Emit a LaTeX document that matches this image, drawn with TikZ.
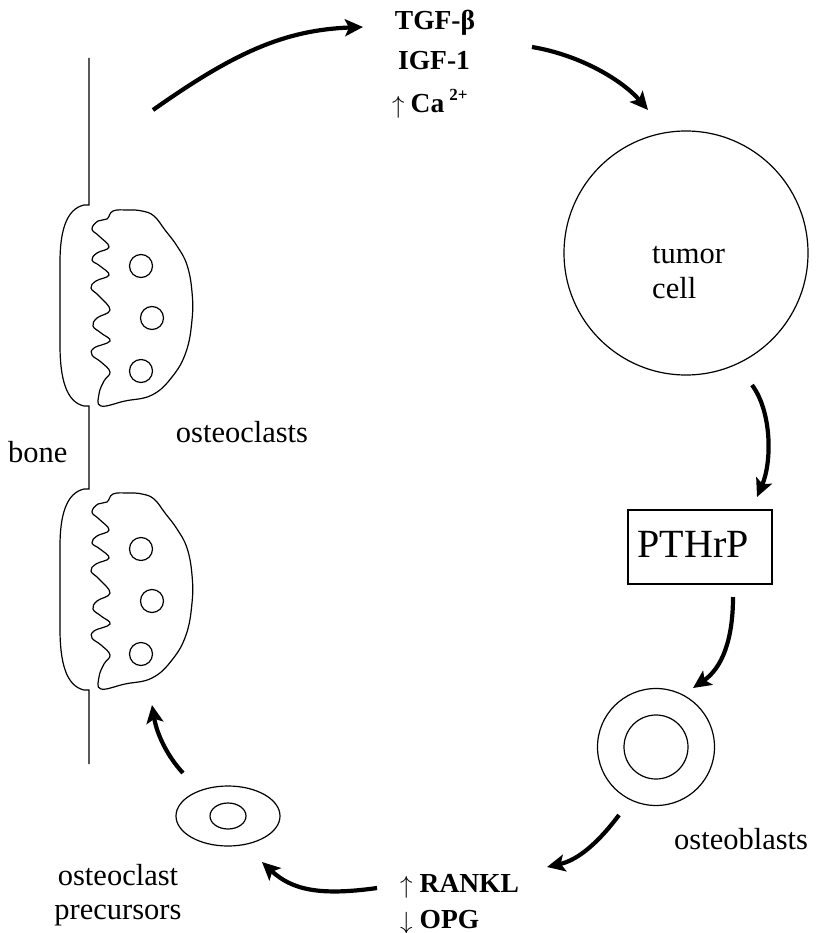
\documentclass[tikz,border=0pt]{standalone}
\usepackage{fontspec}
\setmainfont{Liberation Serif}
\usetikzlibrary{arrows.meta,shapes.geometric}
\newcommand{\upar}{\raisebox{-1pt}{\fontsize{31}{31}\selectfont$\uparrow$}}
\newcommand{\dnar}{\raisebox{-1pt}{\fontsize{31}{31}\selectfont$\downarrow$}}
\begin{document}
\begin{tikzpicture}[x=1pt,y=-1pt,
  cellline/.style={line width=1.2pt},
  flow/.style={line width=4.2pt,-{Stealth[length=18pt,width=17pt,inset=4pt]}},
  lbl/.style={inner sep=0pt,font=\fontsize{30.5}{35}\selectfont},
  blbl/.style={inner sep=0pt,font=\fontsize{27.5}{32}\selectfont\bfseries},
]
\useasboundingbox (0,0) rectangle (817,933);

% bone surface with two resorption pits
\draw[cellline] (89,58) -- (89,205) -- (84,205)
  .. controls (66,209) and (60,232) .. (60,262) -- (60,345)
  .. controls (60,378) and (66,402) .. (84,406) -- (89,406) -- (89,489) -- (84,489)
  .. controls (66,493) and (60,516) .. (60,546) -- (60,629)
  .. controls (60,662) and (66,686) .. (84,690) -- (89,690) -- (89,764);

% osteoclasts with ruffled border and nuclei
\foreach \dy/\nm in {0/ocA,283/ocB}{
  \begin{scope}[yshift=-\dy pt]
    \draw[cellline] plot[smooth cycle, tension=0.7] coordinates {
      (107,219) (113,211) (128,210) (142,211) (154,216) (165,230) (177,246)
      (187,265) (192,292) (192,320) (186,352) (172,377) (152,395) (125,401)
      (101,406) (99,394) (104,381) (110,372) (101,362) (92,355) (94,348)
      (110,341) (101,333) (93,326) (97,318) (110,310) (99,296) (91,288)
      (96,281) (109,275) (100,266) (92,260) (97,253) (109,247) (99,236)
      (92,229) (98,221)};
    \node[circle,draw,cellline,minimum size=23pt,inner sep=0pt] (\nm n1) at (141,266) {};
    \node[circle,draw,cellline,minimum size=23pt,inner sep=0pt] (\nm n2) at (152,318) {};
    \node[circle,draw,cellline,minimum size=23pt,inner sep=0pt] (\nm n3) at (141,371) {};
  \end{scope}
}

% cells
\node[circle,draw,cellline,minimum size=244pt,inner sep=0pt] (tumor) at (686,253) {};
\node[lbl,anchor=base west] (tumortxt) at (652,263) {tumor};
\node[lbl,anchor=base west] (celltxt) at (652,298) {cell};

\node[draw,cellline,minimum width=144pt,minimum height=74pt,inner sep=0pt] (pthrp) at (700,547) {};
\node[inner sep=0pt,anchor=base,font=\fontsize{40}{44}\selectfont] (pthrptxt) at (693,557) {PTHrP};

\node[circle,draw,cellline,minimum size=117pt,inner sep=0pt] (oblast) at (656,747) {};
\node[circle,draw,cellline,minimum size=64pt,inner sep=0pt] (oblastnuc) at (656,747) {};
\node[lbl,anchor=base west] (oblasttxt) at (674,849) {osteoblasts};

\node[ellipse,draw,cellline,minimum width=104pt,minimum height=60pt,inner sep=0pt] (prec) at (228,816) {};
\node[ellipse,draw,cellline,minimum width=36pt,minimum height=26pt,inner sep=0pt] (precnuc) at (228,816) {};
\node[lbl,anchor=base] (prectxt1) at (118,885) {osteoclast};
\node[lbl,anchor=base] (prectxt2) at (118,919) {precursors};

\node[lbl,anchor=base] (octxt) at (242,442) {osteoclasts};
\node[lbl,anchor=base west] (bonetxt) at (8,462) {bone};

% released factors
\node[blbl,anchor=base] (tgf) at (435,30) {TGF-β};
\node[blbl,anchor=base] (igf) at (434,70) {IGF-1};
\node[blbl,anchor=base west] (ca) at (392,113) {\upar\hspace{6pt}Ca\hspace{5pt}\raisebox{12pt}{\fontsize{17}{17}\selectfont 2+}};

\node[blbl,anchor=base west] (rankl) at (400,892) {\upar\hspace{7pt}RANKL};
\node[blbl,anchor=base west] (opg) at (400,928) {\dnar\hspace{7pt}OPG};

% connector end points
\coordinate (a1s) at (153,110); \coordinate (a1e) at (363,27);
\coordinate (a2s) at (532,47);  \coordinate (a2e) at (648,110);
\coordinate (a3s) at (752,385); \coordinate (a3e) at (757,497);
\coordinate (a4s) at (733,597); \coordinate (a4e) at (693,688);
\coordinate (a5s) at (619,815); \coordinate (a5e) at (547,867);
\coordinate (a6s) at (377,888); \coordinate (a6e) at (262,862);
\coordinate (a7s) at (183,773); \coordinate (a7e) at (152,705);

% cycle arrows
\draw[flow] (a1s) .. controls (235,52) and (285,30) .. (a1e);
\draw[flow] (a2s) .. controls (580,55) and (622,80) .. (a2e);
\draw[flow] (a3s) .. controls (772,412) and (772,462) .. (a3e);
\draw[flow] (a4s) .. controls (733,640) and (722,668) .. (a4e);
\draw[flow] (a5s) .. controls (598,843) and (578,860) .. (a5e);
\draw[flow] (a6s) .. controls (320,896) and (292,890) .. (a6e);
\draw[flow] (a7s) .. controls (168,757) and (157,735) .. (a7e);
\end{tikzpicture}
\end{document}
